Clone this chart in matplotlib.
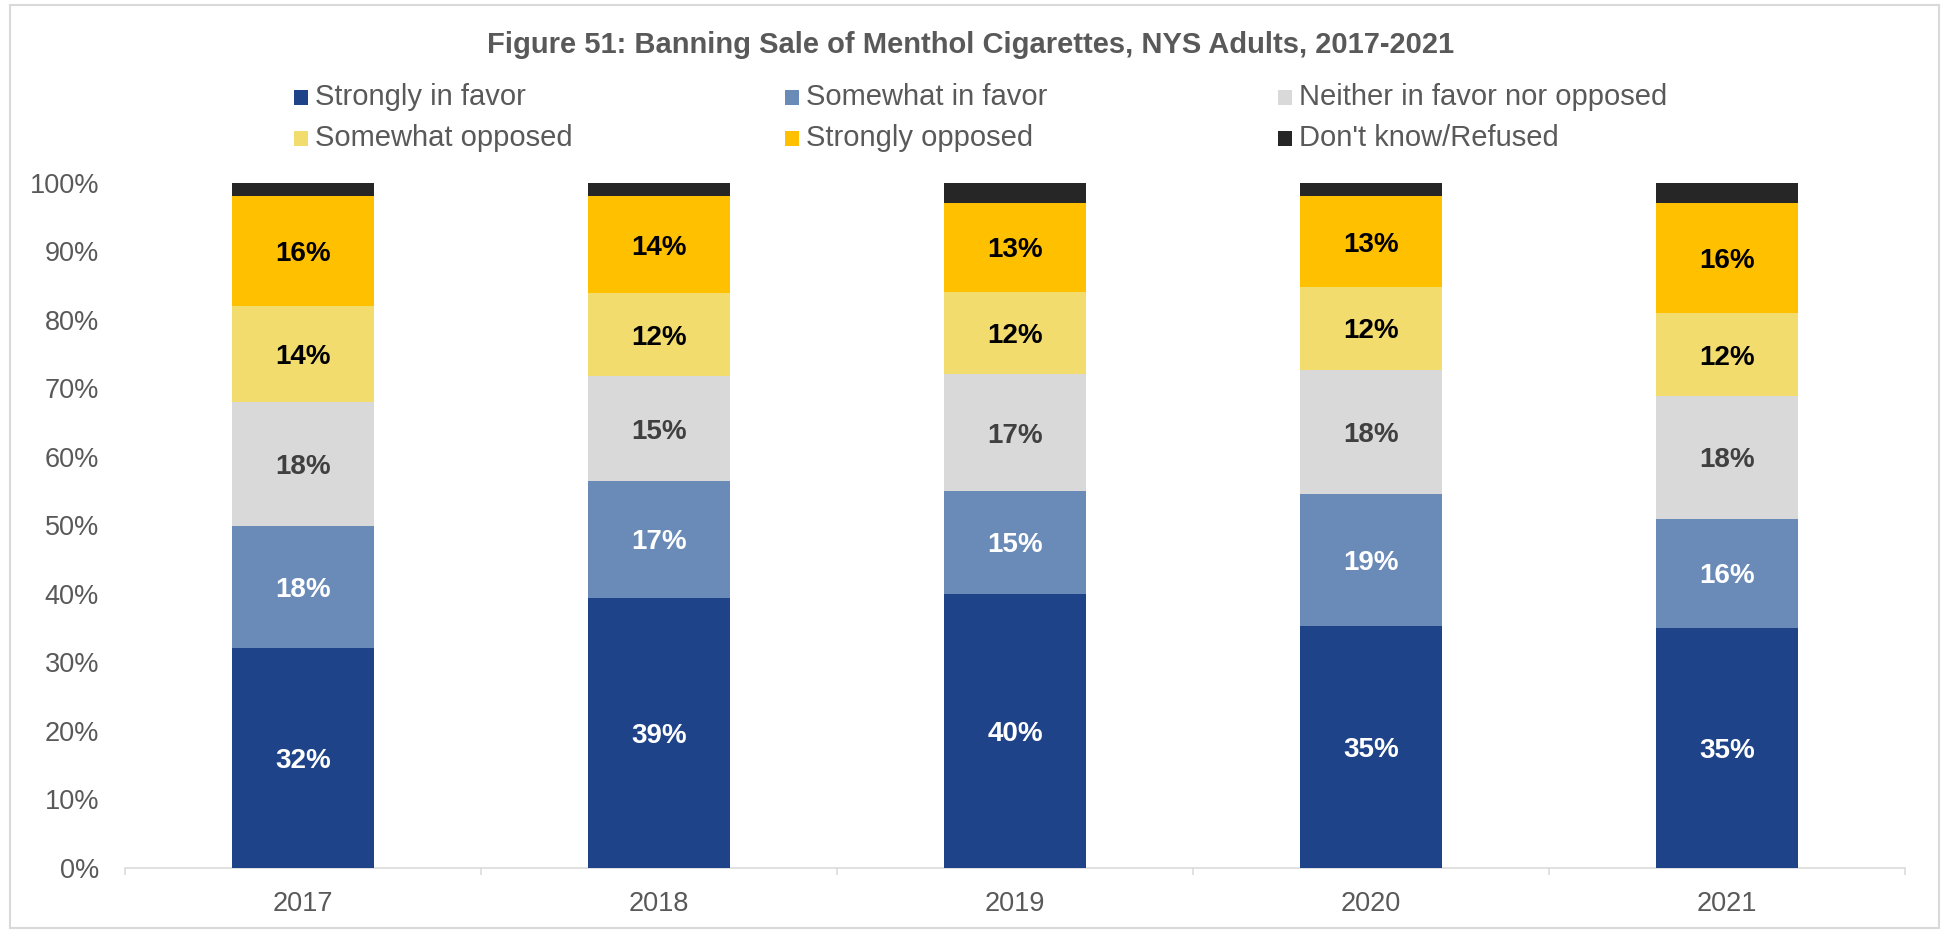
import matplotlib
matplotlib.use("Agg")
import matplotlib.pyplot as plt
from matplotlib.patches import Rectangle
import numpy as np

plt.rcParams['font.family'] = ['Liberation Sans', 'DejaVu Sans']

years = ["2017", "2018", "2019", "2020", "2021"]
categories = ["Strongly in favor", "Somewhat in favor", "Neither in favor nor opposed",
              "Somewhat opposed", "Strongly opposed", "Don't know/Refused"]

strongly_favor = [32.0, 39.4, 40.0, 35.3, 35.0]
somewhat_favor = [17.9, 17.1, 15.0, 19.2, 15.9]
neither = [18.1, 15.2, 17.0, 18.2, 18.0]
somewhat_opposed = [14.0, 12.2, 12.1, 12.1, 12.0]
strongly_opposed = [16.0, 14.1, 13.0, 13.2, 16.1]
dont_know = [2.0, 2.0, 3.0, 2.0, 3.0]

series = [strongly_favor, somewhat_favor, neither, somewhat_opposed, strongly_opposed, dont_know]
colors = ["#1F4388", "#6A8AB8", "#D9D9D9", "#F2DC6E", "#FFC000", "#262626"]
label_colors = ["white", "white", "#404040", "black", "black", None]

TEXT_GRAY = "#595959"
AXIS_GRAY = "#D9D9D9"

W, H = 1946, 933
fig = plt.figure(figsize=(W / 100, H / 100), dpi=100)

def fx(px):
    return px / W

def fy(py):
    return 1 - py / H

ax = fig.add_axes([fx(125), fy(867.5), fx(1905) - fx(125), fy(182.7) - fy(867.5)])

x = np.arange(len(years))
bottom = np.zeros(len(years))
for vals, col, lcol in zip(series, colors, label_colors):
    vals = np.array(vals)
    ax.bar(x, vals, width=0.4, bottom=bottom, color=col, edgecolor="none", zorder=2)
    if lcol is not None:
        for xi, b, v in zip(x, bottom, vals):
            ax.text(xi, b + v / 2, f"{v:.0f}%", ha="center", va="center_baseline",
                    fontsize=20, fontweight="bold", color=lcol, zorder=3)
    bottom += vals

ax.set_xlim(-0.5, len(years) - 0.5)
ax.set_ylim(0, 100)

ax.set_yticks(np.arange(0, 101, 10))
ax.set_yticklabels([f"{v}%" for v in range(0, 101, 10)])
ax.tick_params(axis="y", length=0, pad=18.7, labelsize=19.5, labelcolor=TEXT_GRAY)

ax.set_xticks(np.arange(-0.5, len(years), 1.0))
ax.set_xticklabels([])
ax.set_xticks(x, minor=True)
ax.set_xticklabels(years, minor=True)
ax.tick_params(axis="x", which="major", length=5, width=1.1, color=AXIS_GRAY, direction="out")
ax.tick_params(axis="x", which="minor", length=0, pad=17, labelsize=19.5, labelcolor=TEXT_GRAY)

for side in ["top", "right", "left"]:
    ax.spines[side].set_visible(False)
ax.spines["bottom"].set_color(AXIS_GRAY)
ax.spines["bottom"].set_linewidth(1.1)
ax.spines["bottom"].set_zorder(1)

fig.text(fx(971), fy(45), "Figure 51: Banning Sale of Menthol Cigarettes, NYS Adults, 2017-2021",
         ha="center", va="center", fontsize=21, fontweight="bold", color=TEXT_GRAY)

# legend laid out in a 3 x 2 grid
col_x = [294, 785, 1278]
row_y = [97, 138]
for i, (name, col) in enumerate(zip(categories, colors)):
    cx = col_x[i % 3]
    cy = row_y[i // 3]
    fig.add_artist(Rectangle((fx(cx), fy(cy + 7.5)), fx(14), 15 / H,
                             transform=fig.transFigure, facecolor=col, edgecolor="none"))
    fig.text(fx(cx + 21), fy(cy), name, ha="left", va="center", fontsize=21, color=TEXT_GRAY)

# outer frame
fig.add_artist(Rectangle((fx(10), fy(928)), fx(1939) - fx(10), fy(5) - fy(928),
                         transform=fig.transFigure, facecolor="none", edgecolor=AXIS_GRAY,
                         linewidth=1.5))

fig.savefig("out.png", dpi=100, facecolor="white")
